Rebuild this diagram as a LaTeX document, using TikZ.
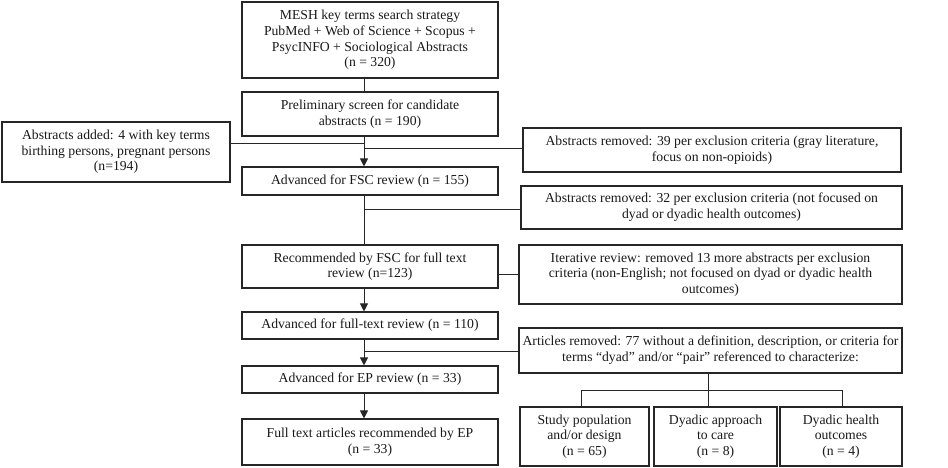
\documentclass[tikz,border=0pt]{standalone}
\usepackage{fontspec}
\setmainfont{Liberation Serif}
\usetikzlibrary{arrows.meta}
\begin{document}
\begin{tikzpicture}[x=1pt,y=-1pt,
  box/.style={draw=black!85, line width=1.1pt, align=center, inner sep=0pt,
    font=\fontsize{13.7pt}{15.7pt}\selectfont, text=black!90},
  link/.style={draw=black!85, line width=1pt},
  arr/.style={link, -{Triangle[length=8pt,width=8pt]}}]
\useasboundingbox (0,0) rectangle (948,468);
\coordinate (spine) at (364,0);
% main column
\node[box, minimum width=256pt, minimum height=76pt] (b1) at (370,40)
  {MESH key terms search strategy\\PubMed + Web of Science + Scopus +\\PsycINFO + Sociological Abstracts\\(n = 320)};
\node[box, minimum width=256pt, minimum height=44pt] (b2) at (370,114)
  {Preliminary screen for candidate\\abstracts (n = 190)};
\node[box, minimum width=256pt, minimum height=28pt] (b3) at (370,181)
  {Advanced for FSC review (n = 155)};
\node[box, minimum width=256pt, minimum height=43pt] (b4) at (370,266.5)
  {Recommended by FSC for full text\\review (n=123)};
\node[box, minimum width=256pt, minimum height=27pt] (b5) at (370,325.5)
  {Advanced for full-text review (n = 110)};
\node[box, minimum width=256pt, minimum height=27pt] (b6) at (370,379.5)
  {Advanced for EP review (n = 33)};
\node[box, minimum width=256pt, minimum height=46pt] (b7) at (370,442)
  {Full text articles recommended by EP\\(n = 33)};
% side boxes
\node[box, minimum width=228pt, minimum height=60pt] (add) at (116,152)
  {Abstracts added: 4 with key terms\\birthing persons, pregnant persons\\(n=194)};
\node[box, minimum width=378pt, minimum height=44pt] (r39) at (712,150)
  {Abstracts removed: 39 per exclusion criteria (gray literature,\\focus on non-opioids)};
\node[box, minimum width=381pt, minimum height=43pt] (r32) at (711.5,207.5)
  {Abstracts removed: 32 per exclusion criteria (not focused on\\dyad or dyadic health outcomes)};
\node[box, minimum width=383pt, minimum height=59pt] (r13) at (710.5,274.5)
  {Iterative review: removed 13 more abstracts per exclusion\\criteria (non-English; not focused on dyad or dyadic health\\outcomes)};
\node[box, minimum width=383pt, minimum height=45pt] (r77) at (710.5,350.5)
  {Articles removed: 77 without a definition, description, or criteria for\\terms \textquotedblleft dyad\textquotedblright{} and/or \textquotedblleft pair\textquotedblright{} referenced to characterize:};
\node[box, minimum width=129pt, minimum height=59pt] (sa) at (584.5,436.5)
  {Study population\\and/or design\\(n = 65)};
\node[box, minimum width=123pt, minimum height=59pt] (sb) at (715.5,436.5)
  {Dyadic approach\\to care\\(n = 8)};
\node[box, minimum width=122pt, minimum height=59pt] (sc) at (841,436.5)
  {Dyadic health\\outcomes\\(n = 4)};
% coordinates
\coordinate (j1) at (364,144);
\coordinate (j2) at (364,149);
\coordinate (j3) at (364,209);
\coordinate (j4) at (364,351);
\coordinate (t77) at (708,372.5);
\coordinate (hb) at (708,390);
\coordinate (ha) at (581,390);
\coordinate (hc) at (842,390);
% connectors
\draw[link] (b1.south -| spine) -- (b2.north -| spine);
\draw[arr] (b2.south -| spine) -- (b3.north -| spine);
\draw[link] (add.east |- j1) -- (j1);
\draw[link] (j2) -- (r39.west |- j2);
\draw[link] (b3.south -| spine) -- (b4.north -| spine);
\draw[link] (j3) -- (r32.west |- j3);
\draw[link] (b4.east |- r13.west) -- (r13.west);
\draw[arr] (b4.south -| spine) -- (b5.north -| spine);
\draw[arr] (b5.south -| spine) -- (b6.north -| spine);
\draw[link] (j4) -- (r77.west |- j4);
\draw[arr] (b6.south -| spine) -- (b7.north -| spine);
\draw[link] (r77.south -| t77) -- (sb.north -| t77);
\draw[link] (sa.north -| ha) -- (ha) -- (hc) -- (sc.north -| hc);
\end{tikzpicture}
\end{document}
